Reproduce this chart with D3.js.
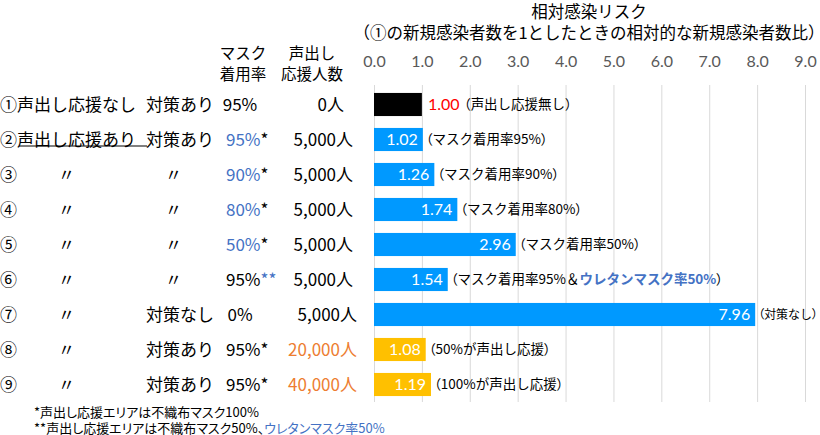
<!DOCTYPE html>
<html><head><meta charset="utf-8">
<script src="https://cdn.jsdelivr.net/npm/d3@7"></script>
<style>
html,body{margin:0;padding:0;background:#fff;}
svg{display:block;font-family:"Noto Sans CJK JP","Noto Sans",sans-serif;}
.num{font-family:Lato,"Noto Sans",sans-serif;}
.palt{font-feature-settings:"palt" 1;}
</style></head><body>
<svg id="c" width="820" height="435"></svg>
<script>
const rowNames = ["①声出し応援なし","②声出し応援あり","③","④","⑤","⑥","⑦","⑧","⑨"];
const measures = ["対策あり","対策あり","〃","〃","〃","〃","対策なし","対策あり","対策あり"];
const maskRates = ["95%","95%","90%","80%","50%","95%","0%","95%","95%"];
const maskNotes = ["","*","*","*","*","**","","*","*"];
const crowds = ["0人","5,000人","5,000人","5,000人","5,000人","5,000人","5,000人","20,000人","40,000人"];
const values = [1.00,1.02,1.26,1.74,2.96,1.54,7.96,1.08,1.19];
const groups = ["base","mask","mask","mask","mask","mask","mask","crowd","crowd"];
const notes = [
  [["（声出し応援無し）",""]],
  [["（マスク着用率95%）",""]],
  [["（マスク着用率90%）",""]],
  [["（マスク着用率80%）",""]],
  [["（マスク着用率50%）",""]],
  [["（マスク着用率95%＆",""],["ウレタンマスク率50%","blue"],["）",""]],
  [["（対策なし）",""]],
  [["（50%が声出し応援）",""]],
  [["（100%が声出し応援）",""]]
];
const ticks = [0,1,2,3,4,5,6,7,8,9];
const titleLines = ["相対感染リスク","（①の新規感染者数を1としたときの相対的な新規感染者数比）"];
const headerMask = ["マスク","着用率"];
const headerCrowd = ["声出し","応援人数"];
const footnotes = [
  [["*声出し応援エリアは不織布マスク100%",""]],
  [["**声出し応援エリアは不織布マスク50%、",""],["ウレタンマスク率50%","blue"]]
];

const COL = {base:"#000000", mask:"#0099FF", crowd:"#FFC000"};
const BLUE = "#4472C4", ORANGE = "#ED7D31", RED = "#FF0000", GRAY = "#595959";

const svg = d3.select("#c");
const x = d3.scaleLinear().domain([0,9]).range([374,805]);
const y = d3.scaleBand().domain(d3.range(values.length)).range([87,402]).paddingInner(0.34).paddingOuter(0.17);
const cy = i => y(i) + y.bandwidth()/2;

// gridlines
svg.append("g").selectAll("line").data(ticks).join("line")
  .attr("x1", d=>x(d)+0.5).attr("x2", d=>x(d)+0.5)
  .attr("y1", 85).attr("y2", 402)
  .attr("stroke", "#d9d9d9").attr("stroke-width", 1);

// tick labels
const ax = d3.axisTop(x).tickValues(ticks).tickFormat(d3.format(".1f")).tickSize(0);
const axg = svg.append("g").attr("transform","translate(0,70)").call(ax);
axg.select(".domain").remove();
axg.selectAll("text").attr("class","num").attr("fill",GRAY).attr("font-size",16)
  .attr("font-family","Lato, 'Noto Sans', sans-serif");

// title
svg.append("g").selectAll("text").data(titleLines).join("text")
  .attr("x", 589).attr("y", (d,i)=> i===0 ? 17.5 : 38.5)
  .attr("text-anchor","middle").attr("font-size",16.5).attr("fill","#000").text(d=>d);

// bars
svg.append("g").selectAll("rect").data(values).join("rect")
  .attr("x", x(0)).attr("y", (d,i)=>y(i))
  .attr("width", d=>x(d)-x(0)).attr("height", y.bandwidth())
  .attr("fill", (d,i)=>COL[groups[i]]);

// value labels
svg.append("g").selectAll("text").data(values).join("text")
  .attr("class","num")
  .attr("x", (d,i)=> groups[i]==="base" ? x(d)+6 : x(d)-5)
  .attr("y", (d,i)=>cy(i)).attr("dy","0.36em")
  .attr("text-anchor", (d,i)=> groups[i]==="base" ? "start" : "end")
  .attr("font-size",16)
  .attr("fill", (d,i)=> groups[i]==="base" ? RED : "#fff")
  .text(d=>d3.format(".2f")(d));

// annotations: split full-width parentheses so they can be set proportionally
const pieces = seg => seg[0].split(/([（）])/).filter(s=>s.length)
  .map(s => ({t:s, blue:seg[1]==="blue", paren:/^[（）]$/.test(s)}));
const ann = svg.append("g").selectAll("text").data(notes).join("text")
  .attr("x", (d,i)=> groups[i]==="base" ? x(values[i]) + 42 : x(values[i]) + 3)
  .attr("y", (d,i)=>cy(i)).attr("dy","0.36em")
  .attr("font-size",13.5).attr("fill","#000");
ann.selectAll("tspan").data(d=>d.flatMap(pieces)).join("tspan")
  .attr("class", p=> p.paren ? "palt" : null)
  .attr("fill", p=> p.blue ? BLUE : "#000")
  .attr("font-weight", p=> p.blue ? "bold" : null)
  .text(p=>p.t);
// keep annotations inside the picture
ann.each(function(){
  const el = this, xx = +el.getAttribute("x"), len = el.getComputedTextLength();
  if (xx + len > 818) d3.select(el).attr("font-size", 13.5 * (818 - xx) / len);
});

// headers
svg.append("g").selectAll("text").data(headerMask).join("text")
  .attr("x", 243).attr("y",(d,i)=>59+i*21).attr("text-anchor","middle")
  .attr("font-size",15.5).text(d=>d);
svg.append("g").selectAll("text").data(headerCrowd).join("text")
  .attr("x", 312).attr("y",(d,i)=>59+i*21).attr("text-anchor","middle")
  .attr("font-size",15.5).text(d=>d);

// left table
const rows = svg.append("g").selectAll("g").data(rowNames).join("g")
  .attr("transform",(d,i)=>`translate(0,${cy(i)})`);
rows.append("text").attr("x",0).attr("dy","0.36em").attr("font-size",17).text(d=>d);
rows.filter(d=>d.length===1).append("text").attr("x",58).attr("dy","0.36em")
  .attr("font-size",17).text("〃");
rows.filter((d,i)=>i===1).append("line")
  .attr("x1",19).attr("x2",147).attr("y1",6.5).attr("y2",6.5)
  .attr("stroke","#000").attr("stroke-width",1);
rows.append("text")
  .attr("x",(d,i)=> measures[i]==="〃" ? 165 : 146)
  .attr("dy","0.36em").attr("font-size",17).text((d,i)=>measures[i]);
const mt = rows.append("text")
  .attr("x",(d,i)=> maskNotes[i] ? 226 : 240)
  .attr("text-anchor",(d,i)=> maskNotes[i] ? "start" : "middle")
  .attr("dy","0.36em").attr("font-size",17);
mt.append("tspan").attr("fill",(d,i)=> (i>=1 && i<=4) ? BLUE : "#000").text((d,i)=>maskRates[i]);
mt.append("tspan").attr("fill",(d,i)=> maskNotes[i]==="**" ? BLUE : "#000").text((d,i)=>maskNotes[i]);
rows.append("text").attr("x",(d,i)=> i===0 ? 344 : (i>=6 ? 357 : 353)).attr("text-anchor","end")
  .attr("dy","0.36em").attr("font-size",17)
  .attr("fill",(d,i)=> groups[i]==="crowd" ? ORANGE : "#000")
  .text((d,i)=>crowds[i]);

// footnotes
const fn = svg.append("g").selectAll("text").data(footnotes).join("text")
  .attr("class","palt")
  .attr("x",34).attr("y",(d,i)=>416.5+i*16).attr("font-size",13);
fn.selectAll("tspan").data(d=>d).join("tspan")
  .attr("fill", d=> d[1]==="blue" ? BLUE : "#000")
  .text(d=>d[0]);
</script></body></html>
